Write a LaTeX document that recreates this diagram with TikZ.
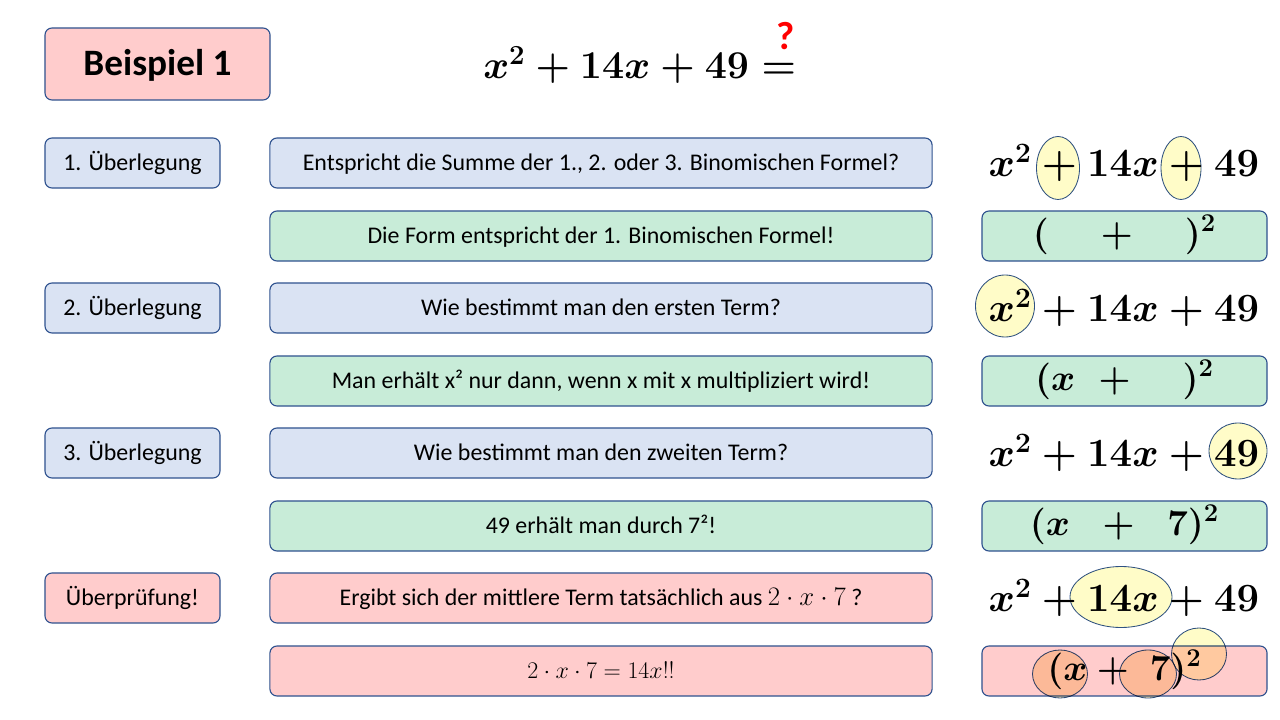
\RequirePackage{fix-cm}
\documentclass[tikz,border=0pt]{standalone}
\usepackage{fontspec}
\setmainfont{Carlito}
\usepackage{amsmath}
\usetikzlibrary{shapes.geometric, positioning}
\definecolor{boxblue}{RGB}{218,227,243}
\definecolor{boxgreen}{RGB}{200,236,216}
\definecolor{boxpink}{RGB}{255,204,204}
\definecolor{boxline}{RGB}{47,82,143}
\definecolor{markyellow}{RGB}{255,252,200}
\definecolor{markorange}{RGB}{252,232,190}
\newcommand{\boxmath}[2][19]{{\fontsize{#1}{21}\selectfont$#2$}}
\newcommand{\fragezeichen}{\text{\fontsize{28}{30}\selectfont\bfseries\kern9pt\raisebox{5pt}{\textcolor{red}{?}}}}
\tikzset{
  %% ---- boxes ----
  box/.style      = {rectangle, rounded corners=5pt,
                     draw=boxline, line width=0.8pt,
                     fill=#1, minimum height=1.25cm, inner sep=2pt,
                     text height=13pt, text depth=2pt,
                     font=\fontsize{17}{20}\selectfont},
  box/.default    = boxblue,
  labelbox/.style = {box=#1, minimum width=4.375cm},
  labelbox/.default = boxblue,
  textbox/.style  = {box=#1, minimum width=16.55cm},
  textbox/.default = boxblue,
  termbox/.style  = {rectangle, rounded corners=5pt,
                     draw=boxline, line width=0.8pt,
                     fill=#1, minimum width=7.125cm, minimum height=1.25cm,
                     inner sep=0pt, text height=17pt, text depth=4pt,
                     font=\fontsize{26}{30}\selectfont\boldmath},
  termbox/.default = boxgreen,
  %% ---- formulas ----
  term/.style     = {inner sep=0pt, font=\fontsize{28.5}{32}\selectfont\boldmath},
  hilite/.style   = {ellipse, draw=boxline, line width=0.6pt,
                     fill=#1, blend mode=multiply, inner sep=0pt},
  hilite/.default = markyellow,
}

\begin{document}
\begin{tikzpicture}[x=0.025cm, y=-0.025cm]
  \useasboundingbox (0,0) rectangle (1280,720);

  %% header
  \node[box=boxpink, minimum width=5.625cm, minimum height=1.8cm,
        text height=19pt, text depth=3pt,
        font=\fontsize{26.5}{30}\selectfont\bfseries] (beispiel) at (157.5,64) {Beispiel 1};
  \node[term, font=\fontsize{28}{32}\selectfont\boldmath, anchor=base west] (aufgabe) at (483,79)
    {$x^2+14x+49\overset{\fragezeichen}{=}$};

  %% left column
  \node[labelbox] (ueb1) at (132.5,163) {1. Überlegung};
  \node[labelbox] (ueb2) at (132.5,308) {2. Überlegung};
  \node[labelbox] (ueb3) at (132.5,453) {3. Überlegung};
  \node[labelbox=boxpink] (pruef) at (132.5,598) {Überprüfung!};

  %% middle column
  \node[textbox] (frage1) at (601,163) {Entspricht die Summe der 1., 2. oder 3. Binomischen Formel?};
  \node[textbox=boxgreen] (antw1) at (601,236) {Die Form entspricht der 1. Binomischen Formel!};
  \node[textbox] (frage2) at (601,308) {Wie bestimmt man den ersten Term?};
  \node[textbox=boxgreen] (antw2) at (601,381) {Man erhält x² nur dann, wenn x mit x multipliziert wird!};
  \node[textbox] (frage3) at (601,453) {Wie bestimmt man den zweiten Term?};
  \node[textbox=boxgreen] (antw3) at (601,526) {49 erhält man durch 7²!};
  \node[textbox=boxpink] (frage4) at (601,598) {Ergibt sich der mittlere Term tatsächlich aus \boxmath{2\cdot x\cdot 7} ?};
  \node[textbox=boxpink] (antw4) at (601,671) {\boxmath[17]{2\cdot x\cdot 7=14x!!}};

  %% right column
  \node[term] (term1) at (1124,163) {$x^2+14x+49$};
  \node[termbox] (form1) at (1124.5,236) {$(\hspace{1.3cm}+\hspace{1.3cm})^2$};
  \node[term] (term2) at (1124,308) {$x^2+14x+49$};
  \node[termbox] (form2) at (1124.5,381) {$(x\;\;+\hspace{1.3cm})^2$};
  \node[term] (term3) at (1124,453) {$x^2+14x+49$};
  \node[termbox] (form3) at (1124.5,526) {$(x\;\;+\;\;7)^2$};
  \node[term] (term4) at (1124,598) {$x^2+14x+49$};
  \node[termbox=boxpink] (form4) at (1124.5,671) {$(x+\;7)^2$};

  %% highlights
  \node[hilite, minimum width=1.075cm, minimum height=1.575cm] (plus1) at (1058,168) {};
  \node[hilite, minimum width=1.0cm, minimum height=1.575cm] (plus2) at (1181,168) {};
  \node[hilite, minimum width=1.475cm, minimum height=1.55cm] (quad1) at (1005,306) {};
  \node[hilite, minimum width=1.45cm, minimum height=1.4cm] (quad2) at (1238,451) {};
  \node[hilite, minimum width=2.55cm, minimum height=1.525cm] (mitte) at (1121,597) {};
  \node[hilite=markorange, minimum width=1.375cm, minimum height=1.2cm] (wurzel1) at (1060,674) {};
  \node[hilite=markorange, minimum width=1.425cm, minimum height=1.2cm] (wurzel2) at (1148,674) {};
  \node[hilite, minimum width=1.375cm, minimum height=1.3cm] (hoch) at (1199,654) {};
\end{tikzpicture}
\end{document}
